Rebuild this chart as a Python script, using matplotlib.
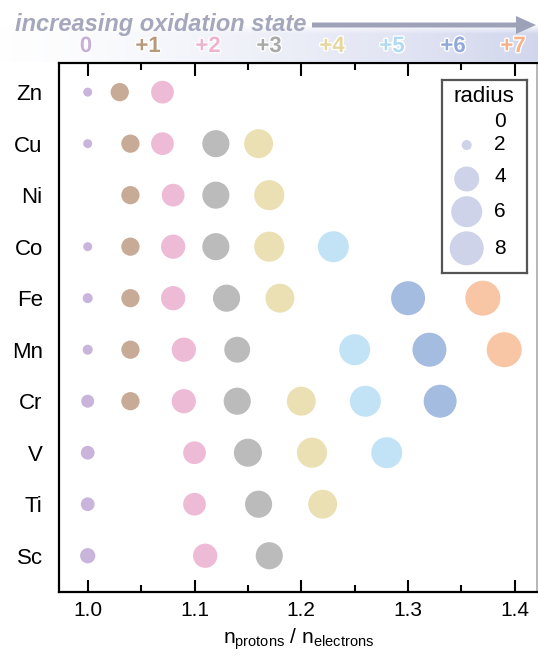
import numpy as np
import matplotlib.pyplot as plt
from matplotlib import patheffects
from matplotlib.patches import FancyArrow

plt.rcParams['font.family'] = ['Liberation Sans', 'DejaVu Sans']
plt.rcParams['mathtext.fontset'] = 'custom'
plt.rcParams['mathtext.rm'] = 'Liberation Sans'
plt.rcParams['mathtext.it'] = 'Liberation Sans:italic'

nan = np.nan

# elements from bottom (Sc) to top (Zn)
elements = ['Sc', 'Ti', 'V', 'Cr', 'Mn', 'Fe', 'Co', 'Ni', 'Cu', 'Zn']
state_labels = ['0', '+1', '+2', '+3', '+4', '+5', '+6', '+7']

# n_protons / n_electrons for each oxidation state, per element
ratio_0 = [1.00, 1.00, 1.00, 1.00, 1.00, 1.00, 1.00, nan, 1.00, 1.00]
ratio_1 = [nan, nan, nan, 1.04, 1.04, 1.04, 1.04, 1.04, 1.04, 1.03]
ratio_2 = [1.11, 1.10, 1.10, 1.09, 1.09, 1.08, 1.08, 1.08, 1.07, 1.07]
ratio_3 = [1.17, 1.16, 1.15, 1.14, 1.14, 1.13, 1.12, 1.12, 1.12, nan]
ratio_4 = [nan, 1.22, 1.21, 1.20, nan, 1.18, 1.17, 1.17, 1.16, nan]
ratio_5 = [nan, nan, 1.28, 1.26, 1.25, nan, 1.23, nan, nan, nan]
ratio_6 = [nan, nan, nan, 1.33, 1.32, 1.30, nan, nan, nan, nan]
ratio_7 = [nan, nan, nan, nan, 1.39, 1.37, nan, nan, nan, nan]

# radius for each point
radius_0 = [2.7, 2.5, 2.5, 2.4, 2.0, 2.0, 1.8, nan, 1.8, 1.8]
radius_1 = [nan, nan, nan, 3.1, 3.1, 3.1, 3.1, 3.1, 3.1, 3.1]
radius_2 = [3.9, 3.7, 3.7, 3.9, 3.9, 3.9, 3.9, 3.7, 3.7, 3.7]
radius_3 = [4.7, 4.7, 5.0, 4.7, 4.3, 4.7, 4.7, 4.7, 4.7, nan]
radius_4 = [nan, 5.3, 5.7, 5.3, nan, 5.3, 5.7, 5.7, 5.3, nan]
radius_5 = [nan, nan, 6.0, 6.0, 6.0, nan, 6.0, nan, nan, nan]
radius_6 = [nan, nan, nan, 7.3, 8.0, 8.0, nan, nan, nan, nan]
radius_7 = [nan, nan, nan, nan, 9.0, 9.0, nan, nan, nan, nan]

legend_radius = [0, 2, 4, 6, 8]

ratios = [ratio_0, ratio_1, ratio_2, ratio_3, ratio_4, ratio_5, ratio_6, ratio_7]
radii = [radius_0, radius_1, radius_2, radius_3, radius_4, radius_5, radius_6, radius_7]

marker_colors = ['#c9b5db', '#c8ab96', '#eebbd7', '#bbbbbb',
                 '#ebdfb4', '#c1e3f5', '#a5bce1', '#f8c5a5']
label_colors = ['#c5afdb', '#b59a7e', '#efb3d2', '#a9a9a9',
                '#e6d79d', '#b2dbf3', '#90aad9', '#f6b08a']

W, H, DPI = 538, 656, 100


def marker_area(r):
    # radius -> marker diameter (px) -> scatter area (pt^2)
    d_px = np.interp(r, [0, 2, 4, 6, 8, 10], [0, 10, 25, 31, 34, 36])
    return (d_px * 72 / DPI) ** 2


fig = plt.figure(figsize=(W / DPI, H / DPI), dpi=DPI)

# main plot
ax = fig.add_axes([59.3 / W, 1 - 592.3 / H, (537 - 59.3) / W, (592.3 - 63.3) / H])
ypos = np.arange(len(elements))
for k in range(len(state_labels)):
    x = np.array(ratios[k], dtype=float)
    r = np.array(radii[k], dtype=float)
    m = ~np.isnan(x)
    ax.scatter(x[m], ypos[m], s=marker_area(r[m]), color=marker_colors[k],
               edgecolors='none', zorder=3)

ax.set_xlim(0.9734, 1.4207)
ax.set_ylim(-0.71, 9.56)
ax.set_yticks(ypos)
ax.set_yticklabels(elements, fontsize=16)
ax.set_xticks([1.0, 1.1, 1.2, 1.3, 1.4])
ax.set_xticklabels(['1.0', '1.1', '1.2', '1.3', '1.4'], fontsize=15)
ax.set_xticks([1.05, 1.15, 1.25, 1.35], minor=True)
ax.tick_params(axis='x', which='both', direction='in', top=True, width=1.5, pad=6)
ax.tick_params(axis='x', which='major', length=9)
ax.tick_params(axis='x', which='minor', length=5)
ax.tick_params(axis='y', length=0, pad=12)
for side in ['left', 'bottom', 'top']:
    ax.spines[side].set_linewidth(1.6)
ax.spines['right'].set_color('#aaaaaa')
ax.spines['right'].set_linewidth(1.2)
ax.set_xlabel(r'n$_{\mathrm{protons}}$ / n$_{\mathrm{electrons}}$', fontsize=15, labelpad=5)

# radius key
lg = fig.add_axes([441.7 / W, 1 - 273 / H, 85 / W, 193 / H])
lg.set_xlim(0, 85)
lg.set_ylim(193, 0)
lg.set_xticks([])
lg.set_yticks([])
for s in lg.spines.values():
    s.set_color('#555555')
    s.set_linewidth(1.6)
lg.text(42.5, 16, 'radius', fontsize=16, ha='center', va='center')
row_y = [41.7, 65, 97, 131.7, 168.3]
for r, yy in zip(legend_radius, row_y):
    if r > 0:
        lg.scatter([25], [yy + (2 if r == 4 else 0)], s=marker_area(r), color='#ced3ea',
                   edgecolors='none', clip_on=False)
    lg.text(58.3, yy, str(r), fontsize=15, ha='center', va='center')

# header band with arrow and oxidation state labels
hd = fig.add_axes([0, 1 - 62 / H, 1, 62 / H])
nx, ny = 256, 40
gx = np.linspace(0, 1, nx)
gy = np.linspace(0, 1, ny)
alpha = (0.02 + 0.9 * gx[None, :] ** 1.4) * np.clip(gy[:, None] * 4, 0, 1)
grad = np.zeros((ny, nx, 4))
grad[..., 0] = 0.81
grad[..., 1] = 0.83
grad[..., 2] = 0.925
grad[..., 3] = alpha
hd.imshow(grad, extent=(0, W, 62, 24), aspect='auto', zorder=0, interpolation='bilinear')
hd.set_xlim(0, W)
hd.set_ylim(62, 0)
hd.axis('off')

hd.add_patch(FancyArrow(312, 25, 224, 0, width=5, head_width=18, head_length=20,
                        length_includes_head=True, color='#9ea2b9', lw=0, zorder=2))
hd.text(15, 31, 'increasing oxidation state', fontsize=17, fontstyle='italic',
        fontweight='bold', color='#a5a8bd', ha='left', va='baseline', zorder=3)

label_x = [86, 148, 208, 269, 332, 392, 453, 513]
for k, lab in enumerate(state_labels):
    hd.text(label_x[k], 52, lab, fontsize=16, fontweight='bold', color=label_colors[k],
            ha='center', va='baseline', zorder=3,
            path_effects=[patheffects.withStroke(linewidth=2, foreground='white')])

fig.savefig('out.png', dpi=DPI)
